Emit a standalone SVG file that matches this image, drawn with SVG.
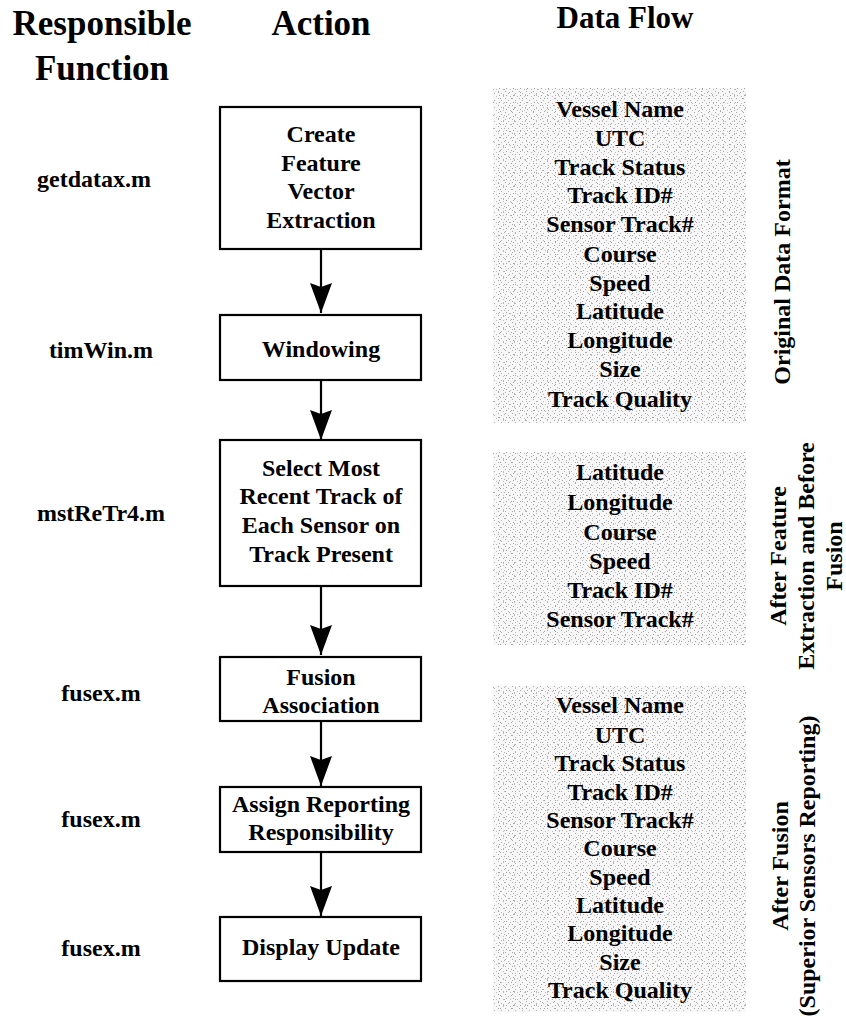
<svg xmlns="http://www.w3.org/2000/svg" width="846" height="1016" viewBox="0 0 846 1016">
<style>
text{font-family:"Liberation Serif","Times New Roman",serif;font-weight:bold;fill:#000;text-anchor:middle}
.h{font-size:35px}
.hs{font-size:31px}
.t{font-size:24px}
.box{fill:#fff;stroke:#000;stroke-width:2.2}
.conn{stroke:#000;stroke-width:2.2;fill:none}
.panel{stroke:none}
</style>
<defs>
<marker id="ah" viewBox="0 0 30 22" refX="30" refY="11" markerWidth="30" markerHeight="22" markerUnits="userSpaceOnUse" orient="auto">
<path d="M0,0 L30,11 L0,22 L4,11 z" fill="#000"/>
</marker>
<pattern id="st1" width="7" height="7" patternUnits="userSpaceOnUse">
<rect width="7" height="7" fill="#f7f7f7"/>
<rect x="1" y="0" width="1" height="1" fill="#a8a8a8"/>
<rect x="4" y="2" width="1" height="1" fill="#b4b4b4"/>
<rect x="2" y="4" width="1" height="1" fill="#a0a0a0"/>
<rect x="6" y="5" width="1" height="1" fill="#bcbcbc"/>
</pattern>
<pattern id="st2" width="11" height="13" patternUnits="userSpaceOnUse">
<rect x="3" y="1" width="1" height="1" fill="#a6a6a6"/>
<rect x="8" y="3" width="1" height="2" fill="#b8b8b8"/>
<rect x="5" y="7" width="1" height="1" fill="#a2a2a2"/>
<rect x="9" y="11" width="1" height="1" fill="#b0b0b0"/>
</pattern>
</defs>
<rect width="846" height="1016" fill="#fff"/>

<g id="headers">
<text class="h" x="102" y="35">Responsible</text>
<text class="h" x="102" y="80">Function</text>
<text class="h" x="321" y="35">Action</text>
<text class="hs" x="625" y="28">Data Flow</text>
</g>

<g id="functions">
<text class="t" x="94" y="187">getdatax.m</text>
<text class="t" x="101" y="358">timWin.m</text>
<text class="t" x="101" y="521">mstReTr4.m</text>
<text class="t" x="101" y="701">fusex.m</text>
<text class="t" x="101" y="827">fusex.m</text>
<text class="t" x="101" y="956">fusex.m</text>
</g>

<g id="connectors">
<line class="conn" x1="321" y1="249" x2="321" y2="313" marker-end="url(#ah)"/>
<line class="conn" x1="321" y1="380" x2="321" y2="440" marker-end="url(#ah)"/>
<line class="conn" x1="321" y1="586" x2="321" y2="655" marker-end="url(#ah)"/>
<line class="conn" x1="321" y1="721" x2="321" y2="786" marker-end="url(#ah)"/>
<line class="conn" x1="321" y1="852" x2="321" y2="916" marker-end="url(#ah)"/>
</g>

<g id="node-create">
<rect class="box" x="220" y="107" width="201" height="142"/>
<text class="t" x="321" y="142">Create</text>
<text class="t" x="321" y="171">Feature</text>
<text class="t" x="321" y="199">Vector</text>
<text class="t" x="321" y="228">Extraction</text>
</g>
<g id="node-windowing">
<rect class="box" x="220" y="315" width="201" height="65"/>
<text class="t" x="321" y="357">Windowing</text>
</g>
<g id="node-select">
<rect class="box" x="220" y="440" width="201" height="146"/>
<text class="t" x="321" y="476">Select Most</text>
<text class="t" x="321" y="504">Recent Track of</text>
<text class="t" x="321" y="533">Each Sensor on</text>
<text class="t" x="321" y="562">Track Present</text>
</g>
<g id="node-fusion">
<rect class="box" x="220" y="657" width="201" height="64"/>
<text class="t" x="321" y="685">Fusion</text>
<text class="t" x="321" y="713">Association</text>
</g>
<g id="node-assign">
<rect class="box" x="220" y="787" width="201" height="65"/>
<text class="t" x="321" y="812">Assign Reporting</text>
<text class="t" x="321" y="840">Responsibility</text>
</g>
<g id="node-display">
<rect class="box" x="220" y="917" width="201" height="64"/>
<text class="t" x="321" y="955">Display Update</text>
</g>

<g id="panel-original">
<rect class="panel" x="493" y="88" width="253" height="335" fill="url(#st1)"/>
<rect class="panel" x="493" y="88" width="253" height="335" fill="url(#st2)"/>
<text class="t" x="620" y="117">Vessel Name</text>
<text class="t" x="620" y="146">UTC</text>
<text class="t" x="620" y="175">Track Status</text>
<text class="t" x="620" y="203">Track ID#</text>
<text class="t" x="620" y="232">Sensor Track#</text>
<text class="t" x="620" y="262">Course</text>
<text class="t" x="620" y="291">Speed</text>
<text class="t" x="620" y="319">Latitude</text>
<text class="t" x="620" y="348">Longitude</text>
<text class="t" x="620" y="377">Size</text>
<text class="t" x="620" y="407">Track Quality</text>
<text class="t" transform="translate(790,272) rotate(-90)">Original Data Format</text>
</g>

<g id="panel-after-feature">
<rect class="panel" x="493" y="452" width="253" height="193" fill="url(#st1)"/>
<rect class="panel" x="493" y="452" width="253" height="193" fill="url(#st2)"/>
<text class="t" x="620" y="480">Latitude</text>
<text class="t" x="620" y="510">Longitude</text>
<text class="t" x="620" y="540">Course</text>
<text class="t" x="620" y="569">Speed</text>
<text class="t" x="620" y="598">Track ID#</text>
<text class="t" x="620" y="627">Sensor Track#</text>
<text class="t" transform="translate(786,556) rotate(-90)">After Feature</text>
<text class="t" transform="translate(814,556) rotate(-90)">Extraction and Before</text>
<text class="t" transform="translate(842,556) rotate(-90)">Fusion</text>
</g>

<g id="panel-after-fusion">
<rect class="panel" x="493" y="686" width="253" height="326" fill="url(#st1)"/>
<rect class="panel" x="493" y="686" width="253" height="326" fill="url(#st2)"/>
<text class="t" x="620" y="713">Vessel Name</text>
<text class="t" x="620" y="743">UTC</text>
<text class="t" x="620" y="771">Track Status</text>
<text class="t" x="620" y="800">Track ID#</text>
<text class="t" x="620" y="828">Sensor Track#</text>
<text class="t" x="620" y="856">Course</text>
<text class="t" x="620" y="885">Speed</text>
<text class="t" x="620" y="913">Latitude</text>
<text class="t" x="620" y="941">Longitude</text>
<text class="t" x="620" y="970">Size</text>
<text class="t" x="620" y="998">Track Quality</text>
<text class="t" transform="translate(788,866) rotate(-90)">After Fusion</text>
<text class="t" transform="translate(815,866) rotate(-90)">(Superior Sensors Reporting)</text>
</g>
</svg>
